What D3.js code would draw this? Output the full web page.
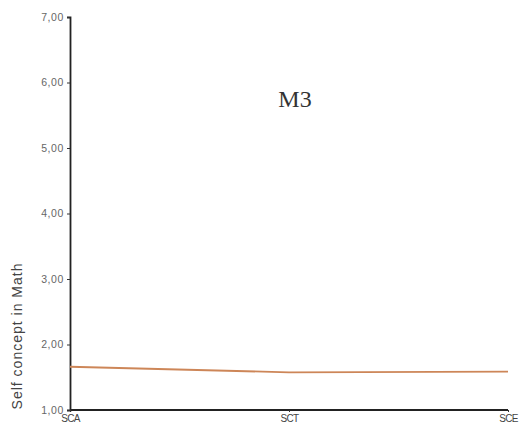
<!DOCTYPE html>
<html><head><meta charset="utf-8">
<script src="https://cdn.jsdelivr.net/npm/d3@7"></script>
<style>body{margin:0;background:#fff}</style>
</head><body>
<svg id="c" width="522" height="431"></svg>
<script>
const categories = ["SCA", "SCT", "SCE"];
const values = [1.66, 1.575, 1.585];
const yTicks = [1, 2, 3, 4, 5, 6, 7];
const title = "M3";
const yLabel = "Self concept in Math";

(function () {
const svg = d3.select("#c");
const mLeft = 70, mRight = 508, mTop = 17, mBottom = 410;
const x = d3.scalePoint().domain(categories).range([mLeft, mRight]);
const y = d3.scaleLinear().domain([1, 7]).range([mBottom, mTop]);

// y axis
const ya = svg.append("g").attr("transform", `translate(${mLeft},0)`)
  .call(d3.axisLeft(y).tickValues(yTicks).tickSize(3).tickFormat(d => d3.format(".2f")(d).replace(".", ",")));
ya.select(".domain").attr("stroke", "#222").attr("stroke-width", 1.8);
ya.selectAll(".tick line").attr("stroke", "#333");
ya.selectAll(".tick text").attr("fill", "#666").attr("font-family", "Arial, Liberation Sans, sans-serif").attr("font-size", 10.5).attr("letter-spacing", "0.6px").attr("x", -6);

// x axis
const xa = svg.append("g").attr("transform", `translate(0,${mBottom})`)
  .call(d3.axisBottom(x).tickSize(2).tickSizeOuter(0));
xa.select(".domain").attr("stroke", "#222").attr("stroke-width", 1.8).attr("d", `M${mLeft},0H${mRight}`);
xa.selectAll(".tick line").attr("stroke", "#333");
xa.selectAll(".tick text").attr("fill", "#444").attr("font-family", "Arial, Liberation Sans, sans-serif").attr("font-size", 10).attr("y", 5).attr("letter-spacing", "-0.6px");

// line
const line = d3.line().x((d, i) => x(categories[i])).y(d => y(d));
svg.append("path").datum(values).attr("d", line)
  .attr("fill", "none").attr("stroke", "#cd8658").attr("stroke-width", 1.8);

// title
svg.append("text").attr("x", 295).attr("y", 107).attr("text-anchor", "middle")
  .attr("font-family", "Liberation Serif, Times New Roman, serif").attr("font-size", 24).attr("fill", "#333").text(title);

// y label
svg.append("text").attr("transform", `translate(22,336) rotate(-90)`).attr("text-anchor", "middle")
  .attr("font-family", "Arial, Liberation Sans, sans-serif").attr("font-size", 14).attr("letter-spacing", "1px").attr("fill", "#444").text(yLabel);
})();
</script>
</body></html>
